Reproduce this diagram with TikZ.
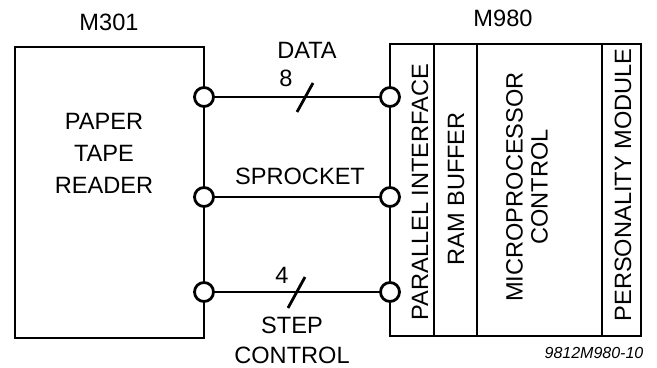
\documentclass[tikz,border=0pt]{standalone}
\usepackage{fontspec}
\setmainfont{Liberation Sans}
\usetikzlibrary{positioning}

\begin{document}
\begin{tikzpicture}[
        x=0.5pt, y=-0.5pt,
        font=\fontsize{11.8}{16}\selectfont,
        line width=1.4pt,
        box/.style={rectangle, draw, inner sep=0pt, minimum height=146pt},
        port/.style={circle, draw, fill=white, inner sep=0pt, minimum size=9.5pt},
        vtext/.style={rotate=90, align=center, inner sep=0pt}
        ]
        \useasboundingbox (0,0) rectangle (657,368);

        % M301
        \node (m301) at (109,22) {M301};
        \node[box, minimum width=94.5pt, minimum height=145.5pt] (reader) at (109.5,192.5) {};
        \node[align=center] (readertext) at (104,153) {PAPER\\TAPE\\READER};

        % M980
        \node (m980) at (503,18) {M980};
        \node[box, minimum width=22pt] (parif) at (412,190) {};
        \node[box, minimum width=21.5pt] (ramb) at (455.5,190) {};
        \node[box, minimum width=62.5pt] (mpu) at (539.5,190) {};
        \node[box, minimum width=19.5pt] (pers) at (621.5,190) {};
        \node[vtext] (pariftext) at (420,192) {PARALLEL INTERFACE};
        \node[vtext] (rambtext) at (456,189) {RAM BUFFER};
        \node[vtext, font=\fontsize{11.8}{12.5}\selectfont] (mputext) at (527,187) {MICROPROCESSOR\\CONTROL};
        \node[vtext] (perstext) at (623,185) {PERSONALITY MODULE};

        % ports
        \node[port] (l1) at (204,97) {};
        \node[port] (l2) at (204,197) {};
        \node[port] (l3) at (204,292) {};
        \node[port] (r1) at (390,97) {};
        \node[port] (r2) at (390,197) {};
        \node[port] (r3) at (390,292) {};

        \draw (l1) -- (r1);
        \draw (l2) -- (r2);
        \draw (l3) -- (r3);
        \draw (297,112) -- (313,83);
        \draw (288,308) -- (305,277);

        \node (data) at (307,50) {DATA};
        \node (eight) at (286,78) {8};
        \node (sprocket) at (300,176) {SPROCKET};
        \node (four) at (282,275) {4};
        \node[align=center, font=\fontsize{11.8}{15}\selectfont] (step) at (292,340) {STEP\\CONTROL};

        \node[font=\fontsize{8}{10}\selectfont\itshape] (fig) at (594,353) {9812M980-10};
    \end{tikzpicture}
\end{document}
